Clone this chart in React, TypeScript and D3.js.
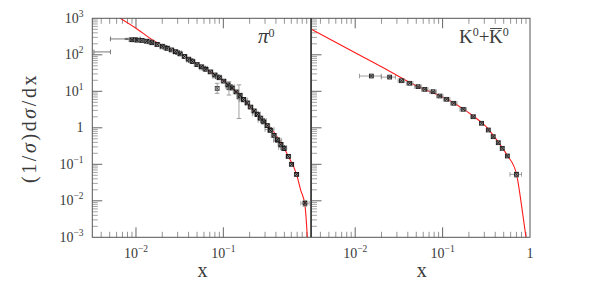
import React from "react";
import * as d3 from "d3";

const W = 598;
const H = 287;
const yTop = 18.3;
const yBot = 237.3;
const xLogMin = Math.pow(10, -2.5);

// [x, y, xlo, xhi, ylo, yhi]
type Pt = [number, number, number, number, number, number];

// pi0 panel: low-x points with wide bins
const piLowX: Pt[] = [
  [0.0042, 120, 0.0033, 0.0051, 120, 120],
  [0.0079, 272, 0.0051, 0.0112, 262, 282],
];

// pi0 panel: the dense band of measurements
const piMain: Pt[] = [
  [0.009, 258, 0.0083, 0.0097, 240, 276],
  [0.0103, 252, 0.0096, 0.011, 235, 270],
  [0.0117, 247, 0.0109, 0.0125, 230, 264],
  [0.0133, 236, 0.0124, 0.0142, 220, 252],
  [0.0152, 214, 0.0141, 0.0163, 200, 228],
  [0.0175, 192, 0.0163, 0.0187, 180, 204],
  [0.02, 172, 0.0186, 0.0214, 160, 184],
  [0.0227, 150, 0.0211, 0.0243, 140, 160],
  [0.0255, 136, 0.0237, 0.0273, 127, 145],
  [0.0283, 122, 0.0263, 0.0303, 114, 130],
  [0.032, 106, 0.0298, 0.0342, 99, 113],
  [0.036, 90, 0.0335, 0.0385, 84, 96],
  [0.04, 76, 0.0372, 0.0428, 71, 81],
  [0.0445, 65, 0.0414, 0.0476, 60, 70],
  [0.05, 54, 0.0465, 0.0535, 50, 58],
  [0.056, 47, 0.0521, 0.0599, 43, 51],
  [0.063, 40, 0.0586, 0.0674, 37, 43],
  [0.0713, 34, 0.0663, 0.0763, 31, 37],
  [0.08, 28, 0.0744, 0.0856, 26, 30],
  [0.09, 23.5, 0.0837, 0.0963, 21.5, 25.5],
  [0.101, 19, 0.094, 0.108, 17.5, 20.5],
  [0.113, 15, 0.105, 0.121, 13.8, 16.2],
  [0.126, 12.3, 0.117, 0.135, 11.3, 13.3],
  [0.14, 9.6, 0.13, 0.15, 8.8, 10.4],
  [0.155, 7.8, 0.144, 0.166, 7.2, 8.4],
  [0.17, 6.0, 0.158, 0.182, 5.5, 6.5],
  [0.188, 4.8, 0.175, 0.201, 4.4, 5.2],
  [0.205, 3.7, 0.191, 0.219, 3.4, 4.0],
  [0.225, 2.9, 0.209, 0.241, 2.65, 3.15],
  [0.245, 2.3, 0.228, 0.262, 2.1, 2.5],
  [0.265, 1.85, 0.246, 0.284, 1.7, 2.0],
  [0.29, 1.45, 0.27, 0.31, 1.33, 1.57],
  [0.318, 1.15, 0.296, 0.34, 1.05, 1.25],
  [0.345, 0.85, 0.321, 0.369, 0.78, 0.92],
  [0.38, 0.62, 0.353, 0.407, 0.57, 0.67],
  [0.415, 0.47, 0.386, 0.444, 0.43, 0.51],
  [0.455, 0.35, 0.423, 0.487, 0.32, 0.38],
  [0.495, 0.27, 0.46, 0.53, 0.25, 0.29],
  [0.555, 0.165, 0.52, 0.59, 0.15, 0.18],
  [0.605, 0.1, 0.57, 0.64, 0.092, 0.108],
  [0.69, 0.053, 0.65, 0.73, 0.048, 0.058],
  [0.86, 0.0086, 0.77, 0.96, 0.007, 0.0102],
];

// pi0 panel: second experiment, wider bins
const piWide: Pt[] = [
  [0.0098, 262, 0.0085, 0.0112, 250, 274],
  [0.0142, 228, 0.0125, 0.016, 215, 241],
  [0.0215, 160, 0.019, 0.024, 150, 170],
  [0.03, 115, 0.027, 0.033, 108, 122],
  [0.042, 70, 0.038, 0.046, 65, 75],
  [0.06, 43, 0.054, 0.066, 40, 46],
  [0.085, 25, 0.076, 0.094, 23, 27],
  [0.12, 13.5, 0.107, 0.133, 12.5, 14.5],
  [0.17, 5.8, 0.152, 0.188, 5.3, 6.3],
  [0.24, 2.4, 0.215, 0.265, 2.2, 2.6],
  [0.28, 1.6, 0.25, 0.31, 1.45, 1.75],
  [0.34, 0.9, 0.3, 0.38, 0.82, 0.98],
  [0.42, 0.45, 0.375, 0.465, 0.41, 0.49],
  [0.48, 0.29, 0.43, 0.53, 0.26, 0.32],
];

// pi0 panel: points with large vertical errors
const piBigErr: Pt[] = [
  [0.085, 12, 0.085, 0.085, 8.8, 16.6],
  [0.116, 12.5, 0.116, 0.116, 7.9, 18.3],
  [0.151, 7, 0.151, 0.151, 1.8, 15],
];

// pi0 model curve [x, y]
const piModel: [number, number][] = [
  [0.0066, 1000], [0.0103, 509], [0.015, 267], [0.0227, 151], [0.0323, 103],
  [0.044, 66], [0.0597, 43], [0.0813, 28], [0.101, 19], [0.126, 12.3],
  [0.165, 6.6], [0.214, 3.2], [0.279, 1.65], [0.364, 0.87], [0.453, 0.4],
  [0.555, 0.165], [0.69, 0.052], [0.767, 0.02], [0.86, 0.0075], [0.916, 0.001],
];

// K0 + K0bar data
const kData: Pt[] = [
  [0.0153, 26.2, 0.0112, 0.0199, 25, 27.4],
  [0.0248, 24.5, 0.0199, 0.0289, 23.4, 25.6],
  [0.0338, 19.5, 0.031, 0.0368, 18.6, 20.4],
  [0.042, 16.6, 0.0385, 0.0457, 15.8, 17.4],
  [0.0524, 13.4, 0.048, 0.057, 12.8, 14],
  [0.0625, 11.3, 0.0573, 0.068, 10.8, 11.8],
  [0.0778, 9.76, 0.0713, 0.0847, 9.3, 10.2],
  [0.0929, 7.43, 0.0852, 0.101, 7.1, 7.8],
  [0.111, 6.04, 0.102, 0.121, 5.75, 6.35],
  [0.134, 4.69, 0.123, 0.146, 4.45, 4.95],
  [0.172, 3.21, 0.158, 0.187, 3.05, 3.37],
  [0.224, 2.01, 0.21, 0.238, 1.9, 2.12],
  [0.279, 1.33, 0.265, 0.293, 1.25, 1.41],
  [0.333, 0.87, 0.318, 0.348, 0.82, 0.92],
  [0.379, 0.57, 0.363, 0.395, 0.535, 0.605],
  [0.433, 0.39, 0.415, 0.451, 0.365, 0.415],
  [0.481, 0.274, 0.46, 0.502, 0.255, 0.293],
  [0.55, 0.169, 0.525, 0.575, 0.155, 0.183],
  [0.7, 0.053, 0.59, 0.8, 0.044, 0.061],
];

// K0 model curve [x, y]
const kModel: [number, number][] = [
  [0.00316, 500], [0.01, 114], [0.02, 47], [0.0296, 28], [0.042, 17.5],
  [0.0625, 11.2], [0.0929, 7.5], [0.134, 4.8], [0.172, 3.3], [0.224, 2.1],
  [0.279, 1.4], [0.333, 0.93], [0.379, 0.62], [0.433, 0.41], [0.481, 0.285],
  [0.55, 0.175], [0.7, 0.055], [0.8, 0.0075], [0.9, 0.001],
];

const yMajor = [1e-3, 1e-2, 1e-1, 1, 10, 100, 1000];
const yLabels = ["−3", "−2", "−1", "", "1", "2", "3"];
const xMajorLeft = [0.01, 0.1];
const xLabelsLeft = ["−2", "−1"];
const xMajorRight = [0.01, 0.1, 1];
const xLabelsRight = ["−2", "−1", ""];

const FONT = "'Liberation Serif', 'DejaVu Serif', serif";
const TXT = "#3a3a3a";
const AX = "#555";

const yScale = d3.scaleLog().domain([1e-3, 1e3]).range([yBot, yTop]);
const isMajor = (t: number) => Math.abs(Math.log10(t) - Math.round(Math.log10(t))) < 1e-6;

function Points({ data, sx, mark, bar }: { data: Pt[]; sx: d3.ScaleLogarithmic<number, number>; mark: string; bar: string }) {
  const cap = 2.3;
  return (
    <g>
      {data.map((d, i) => {
        const cx = sx(d[0]);
        const cy = yScale(d[1]);
        const xl = sx(d[2]);
        const xh = sx(d[3]);
        const yl = yScale(d[4]);
        const yh = yScale(d[5]);
        const s = 1.9;
        return (
          <g key={i}>
            {xh - xl > 0.5 && (
              <g stroke={bar} strokeWidth={0.8}>
                <line x1={xl} x2={xh} y1={cy} y2={cy} />
                <line x1={xl} x2={xl} y1={cy - cap} y2={cy + cap} />
                <line x1={xh} x2={xh} y1={cy - cap} y2={cy + cap} />
              </g>
            )}
            {yl - yh > 0.5 && (
              <g stroke={bar} strokeWidth={0.8}>
                <line x1={cx} x2={cx} y1={yl} y2={yh} />
                <line x1={cx - cap} x2={cx + cap} y1={yl} y2={yl} />
                <line x1={cx - cap} x2={cx + cap} y1={yh} y2={yh} />
              </g>
            )}
            {mark !== "none" && (
              <g stroke={mark} strokeWidth={0.9} fill="none">
                <rect x={cx - s} y={cy - s} width={2 * s} height={2 * s} />
                <line x1={cx - s} x2={cx + s} y1={cy - s} y2={cy + s} />
                <line x1={cx - s} x2={cx + s} y1={cy + s} y2={cy - s} />
              </g>
            )}
          </g>
        );
      })}
    </g>
  );
}

function Panel({ id, x0, x1, majors, labels, model, sets }: {
  id: string; x0: number; x1: number; majors: number[]; labels: string[];
  model: [number, number][]; sets: { data: Pt[]; mark: string; bar: string }[];
}) {
  const sx = d3.scaleLog().domain([xLogMin, 1]).range([x0, x1]);
  const xt = sx.ticks().filter((t) => t > xLogMin * 1.0001 && t < 0.9999);
  const yt = yScale.ticks().filter((t) => t > 1.0001e-3 && t < 999.9);
  const line = d3
    .line<[number, number]>()
    .x((d) => sx(d[0]))
    .y((d) => yScale(d[1]))
    .curve(d3.curveMonotoneX);
  return (
    <g>
      <defs>
        <clipPath id={id}>
          <rect x={x0} y={yTop} width={x1 - x0} height={yBot - yTop} />
        </clipPath>
      </defs>
      {xt.map((t, i) => {
        const len = isMajor(t) ? 10 : 5.5;
        const c = isMajor(t) ? AX : "#888";
        return (
          <g key={i} stroke={c} strokeWidth={0.9}>
            <line x1={sx(t)} x2={sx(t)} y1={yBot} y2={yBot - len} />
            <line x1={sx(t)} x2={sx(t)} y1={yTop} y2={yTop + len} />
          </g>
        );
      })}
      {yt.map((t, i) => {
        const len = isMajor(t) ? 10 : 5.5;
        const c = isMajor(t) ? AX : "#999";
        return <line key={i} x1={x0} x2={x0 + len} y1={yScale(t)} y2={yScale(t)} stroke={c} strokeWidth={0.9} />;
      })}
      <g clipPath={`url(#${id})`}>
        <path d={line(model) || ""} fill="none" stroke="#ff1a1a" strokeWidth={1.1} />
        {sets.map((s, i) => (
          <Points key={i} data={s.data} sx={sx} mark={s.mark} bar={s.bar} />
        ))}
      </g>
      <rect x={x0} y={yTop} width={x1 - x0} height={yBot - yTop} fill="none" stroke={AX} strokeWidth={1} />
      {majors.map((t, i) => (
        <text key={i} x={sx(t)} y={258} textAnchor="middle" fontSize={14} fill={TXT} fontFamily={FONT}>
          {labels[i] ? (
            <>
              10<tspan dy={-6} fontSize={9.5}>{labels[i]}</tspan>
            </>
          ) : (
            "1"
          )}
        </text>
      ))}
      <text x={(x0 + x1) / 2 + 1} y={277} textAnchor="middle" fontSize={20} fill={TXT} fontFamily={FONT}>
        x
      </text>
    </g>
  );
}

export default function App() {
  return (
    <svg width={W} height={H} style={{ position: "absolute", left: 0, top: 0, background: "#fff" }}>
      <Panel
        id="clipL"
        x0={92.3}
        x1={310.7}
        majors={xMajorLeft}
        labels={xLabelsLeft}
        model={piModel}
        sets={[
          { data: piLowX, mark: "none", bar: "#555" },
          { data: piWide, mark: "#555", bar: "#888" },
          { data: piBigErr, mark: "#444", bar: "#888" },
          { data: piMain, mark: "#111", bar: "#999" },
        ]}
      />
      <Panel
        id="clipR"
        x0={311.5}
        x1={530}
        majors={xMajorRight}
        labels={xLabelsRight}
        model={kModel}
        sets={[{ data: kData, mark: "#222", bar: "#888" }]}
      />
      <line x1={311.1} x2={311.1} y1={yTop} y2={yBot} stroke="#333" strokeWidth={1} />
      {yMajor.map((t, i) => (
        <text key={i} x={83.5} y={yScale(t) + 4.5} textAnchor="end" fontSize={14} fill={TXT} fontFamily={FONT}>
          {yLabels[i] ? (
            <>
              10<tspan dy={-6} fontSize={9.5}>{yLabels[i]}</tspan>
            </>
          ) : (
            "1"
          )}
        </text>
      ))}
      <text
        transform="translate(36,128) rotate(-90)"
        textAnchor="middle"
        fontSize={20}
        fill={TXT}
        fontFamily={FONT}
        letterSpacing={2.6}
      >
        (1/<tspan fontStyle="italic">σ</tspan>)d<tspan fontStyle="italic">σ</tspan>/dx
      </text>
      <text x={258} y={43} fontSize={21} fill={TXT} fontFamily={FONT}>
        <tspan fontStyle="italic">π</tspan>
        <tspan dy={-6} fontSize={12}>0</tspan>
      </text>
      <text x={459} y={43} fontSize={19} fill={TXT} fontFamily={FONT}>
        K<tspan dy={-7} fontSize={12}>0</tspan>
        <tspan dy={7}>+</tspan>
      </text>
      <text x={489} y={43} fontSize={19} fill={TXT} fontFamily={FONT}>
        K<tspan dy={-7} fontSize={12}>0</tspan>
      </text>
      <line x1={490} x2={502} y1={28.5} y2={28.5} stroke={TXT} strokeWidth={0.9} />
    </svg>
  );
}
